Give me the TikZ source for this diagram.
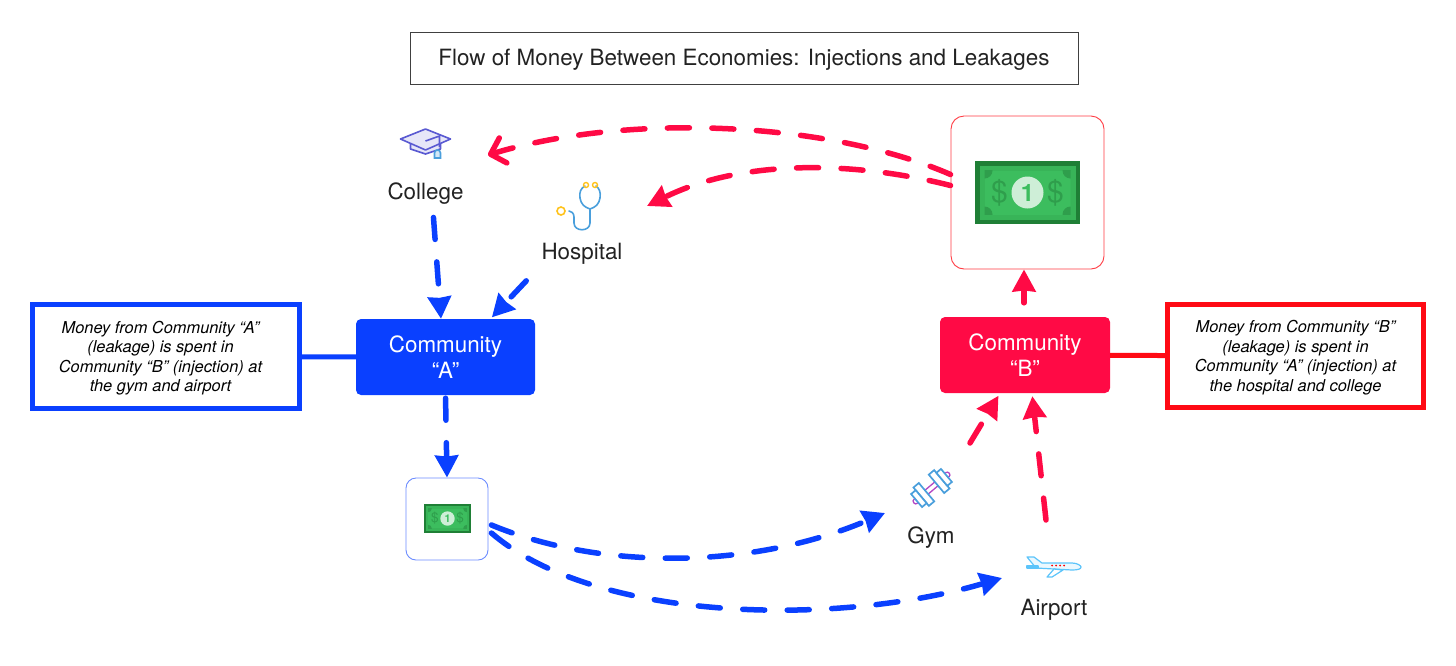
\documentclass[tikz,border=0pt]{standalone}
\usepackage{fontspec}
\setmainfont{TeX Gyre Heros}
\usetikzlibrary{arrows.meta, calc, positioning}
\definecolor{clrA}{HTML}{0A40FF}
\definecolor{clrB}{HTML}{FF0A45}
\definecolor{noteB}{HTML}{FF0A14}
\definecolor{billdark}{HTML}{1F7F36}
\definecolor{billmid}{HTML}{2F9E4C}
\definecolor{billlight}{HTML}{3CBD5E}
\definecolor{capclr}{HTML}{5A5AD2}
\definecolor{skyclr}{HTML}{4A9FDC}
\definecolor{planeclr}{HTML}{5CC4FA}
\definecolor{goldclr}{HTML}{FFC21A}
\definecolor{gymhandle}{HTML}{B347C4}
\definecolor{txtclr}{HTML}{222222}

\tikzset{
    pics/money/.style={code={
        \fill[billdark] (-52.5,-31.5) rectangle (52.5,31.5);
        \fill[billlight!70!billmid] (-48,-27) rectangle (48,27);
        \begin{scope}
            \clip (-43,-22) rectangle (43,22);
            \fill[billlight] (-43,-22) rectangle (43,22);
            \foreach \sx/\sy in {-43/-22, 43/-22, -43/22, 43/22} {
                \fill[billmid] (\sx,\sy) circle (8);
            }
        \end{scope}
        \fill[white!75!billlight] (0,0) circle (16);
        \node[font=\fontsize{24}{24}\selectfont\bfseries, text=billlight, transform shape] at (0,0) {1};
        \node[font=\fontsize{30}{30}\selectfont, text=billmid, transform shape] at (-28,0) {\$};
        \node[font=\fontsize{30}{30}\selectfont, text=billmid, transform shape] at (28,0) {\$};
    }},
    pics/gradcap/.style={code={
        \draw[capclr, fill=capclr!15, line width=1.6pt, line join=round] (-15,-4) -- (-15,10) -- (0,15) -- (15,10) -- (15,-4) -- cycle;
        \draw[capclr, fill=capclr!15, line width=1.6pt, line join=round] (-25,0) -- (0,-10) -- (25,0) -- (0,11) -- cycle;
        \draw[capclr, line width=1.6pt] (0,2) -- (14,-3) -- (14,8);
        \draw[skyclr, fill=skyclr!25, line width=1.6pt] (9,19) -- (9,14) arc (180:360:3) -- (15,19) -- cycle;
    }},
    pics/stetho/.style={code={
        \draw[skyclr, line width=1.6pt, line cap=round, line join=round]
            (5,-24) .. controls (1,-22) and (-1,-18) .. (0,-12) .. controls (1,-6) and (4,-3) .. (10,-1)
            .. controls (16,-3) and (19,-6) .. (20,-12) .. controls (21,-18) and (19,-22) .. (16,-24);
        \draw[skyclr, line width=1.6pt, line cap=round] (10,-1) -- (10,13) .. controls (10,22) and (-6,22) .. (-6,13)
            -- (-6,7) .. controls (-6,3) and (-9,1) .. (-11,1);
        \draw[goldclr, line width=1.4pt] (6,-25) circle (2.5) (15,-25) circle (2.5);
        \draw[goldclr, line width=1.6pt] (-19,1) circle (4);
    }},
    pics/dumbbell/.style={code={
        \draw[gymhandle, line width=1.3pt, fill=white, rounded corners=2pt] (-23,-2.5) rectangle (23,2.5);
        \foreach \sx in {-1,1} {
            \draw[skyclr, line width=1.7pt, fill=white] (\sx*10-3.5,-12) rectangle (\sx*10+3.5,12);
            \draw[skyclr, line width=1.7pt, fill=white] (\sx*16.5-3,-8.5) rectangle (\sx*16.5+3,8.5);
        }
    }},
    pics/plane/.style={code={
        \draw[planeclr, line width=1.2pt, fill=planeclr!12, line join=round]
            (-27,-9) -- (-20,-9) -- (-12,-3) -- (18,-3) .. controls (24,-3) and (27,0) .. (27,1)
            .. controls (27,3) and (24,4) .. (18,4) -- (-18,2) -- cycle;
        \draw[planeclr, line width=1.2pt, fill=planeclr!12, line join=round] (-27,0) -- (-16,0) -- (-16,2) -- (-27,2) -- cycle;
        \draw[planeclr, line width=1.2pt, fill=white, line join=round] (-7,11) -- (-2,11) -- (9,4) -- (0,3) -- cycle;
        \foreach \sx in {-2,2,6,10} {
            \fill[red] (\sx,-0.5) circle (1);
        }
    }},
}

\begin{document}
\begin{tikzpicture}[
        x=1pt, y=-1pt,
        font=\fontsize{22.4}{26}\selectfont,
        title box/.style={draw=black!75, line width=0.8pt, minimum width=668pt, minimum height=52pt, inner sep=0pt, text=txtclr},
        community/.style={rounded corners=5pt, inner sep=0pt, text=white, align=center, font=\fontsize{22.4}{26}\selectfont},
        bill box/.style={draw, fill=white, inner sep=0pt, line width=0.9pt},
        note box/.style={draw, line width=5pt, fill=white, inner sep=0pt},
        note text/.style={align=center, text=black, inner sep=0pt, font=\fontsize{16.4}{19.5}\selectfont\itshape},
        place label/.style={text=txtclr, inner sep=0pt},
        icon holder/.style={inner sep=0pt, outer sep=0pt},
        flow/.style={line width=5.5pt, line cap=round, dash pattern=on 22pt off 22.5pt},
        flow tip/.style={-{Stealth[length=22pt, width=23pt, inset=1pt]}},
        flow A/.style={flow, flow tip, clrA},
        flow B/.style={flow, flow tip, clrB},
        barb B/.style={flow, clrB, -{Straight Barb[length=13pt, width=26pt, line width=5.5pt, round]}},
        note link/.style={line width=5pt},
    ]

    % Title
    \node[title box] (title) at (744,58) {};
    \node[place label] (titletext) at (744,60) {Flow of Money Between Economies: Injections and Leakages};

    % Communities
    \node[community, fill=clrA, minimum width=179pt, minimum height=76pt] (commA) at (445.5,357) {Community\\“A”};
    \node[community, fill=clrB, minimum width=170pt, minimum height=76pt] (commB) at (1025,355) {Community\\“B”};

    % Notes
    \node[note box, draw=clrA, minimum width=267pt, minimum height=104pt] (noteA) at (166,356.5) {};
    \node[note text] (noteAtext) at (160.5,358)
        {Money from Community “A”\\(leakage) is spent in\\Community “B” (injection) at\\the gym and airport};
    \node[note box, draw=noteB, minimum width=256pt, minimum height=103pt] (noteB) at (1295.5,356) {};
    \node[note text] (noteBtext) at (1295.5,357.5)
        {Money from Community “B”\\(leakage) is spent in\\Community “A” (injection) at\\the hospital and college};
    \draw[note link, clrA] (noteA) -- (commA);
    \draw[note link, noteB] (noteB) -- (commB);

    % Money boxes
    \node[bill box, draw=clrA!60, rounded corners=10pt, minimum size=82pt] (billA) at (447,519) {};
    \node[bill box, draw=noteB!80, rounded corners=13pt, minimum size=153pt] (billB) at (1027.5,192.5) {};
    \pic[scale=0.45] at (447.5,518.5) {money};
    \pic at (1027.5,192.5) {money};

    % Places
    \node[icon holder, minimum width=126pt, minimum height=40pt] (collegeicon) at (425,155) {};
    \node[icon holder, minimum width=134pt, minimum height=40pt] (hospitalicon) at (580,206) {};
    \node[icon holder, minimum width=94pt, minimum height=40pt] (gymicon) at (932,513) {};
    \node[icon holder, minimum width=104pt, minimum height=40pt] (airporticon) at (1054,578) {};
    \pic at (425.5,139) {gradcap};
    \pic at (580,210) {stetho};
    \pic[rotate=40] at (931.5,488) {dumbbell};
    \pic at (1054,566) {plane};
    \node[place label] (college) at (425.5,193.5) {College};
    \node[place label] (hospital) at (582,254) {Hospital};
    \node[place label] (gym) at (931,537.5) {Gym};
    \node[place label] (airport) at (1054,610) {Airport};

    % Community A flows
    \draw[flow A, shorten <=13pt] ([xshift=7pt]college.south) -- ([xshift=-4.5pt]commA.north);
    \draw[flow A, shorten <=22pt, shorten >=2pt] (hospital.south west) -- ([xshift=45pt]commA.north);
    \draw[flow A, shorten <=3pt] (commA.south) -- (billA.north);
    \draw[flow A] ([xshift=3pt,yshift=-6pt]billA.east) .. controls (600,570) and (750,570) .. (gymicon.west);
    \draw[flow A] ([xshift=3pt,yshift=-14pt]billA.east) .. controls (595,622) and (835,627) .. (airporticon.west);

    % Community B flows
    \draw[flow B, shorten <=14pt] ([xshift=-1pt]commB.north) -- ([xshift=-3.5pt]billB.south);
    \draw[flow B, shorten >=3pt] ([xshift=38pt,yshift=50pt]gymicon.north) -- ([xshift=-25pt]commB.south);
    \draw[flow B, shorten >=3pt] ([xshift=-8pt,yshift=38pt]airporticon.north) -- ([xshift=7pt]commB.south);
    \draw[barb B] ([yshift=18pt]billB.west) .. controls (830,122) and (630,112) .. (collegeicon.east);
    \draw[flow B] ([yshift=7pt]billB.west) .. controls (850,160) and (740,160) .. (hospitalicon.east);

    \useasboundingbox (0,0) rectangle (1456,665);
\end{tikzpicture}
\end{document}
